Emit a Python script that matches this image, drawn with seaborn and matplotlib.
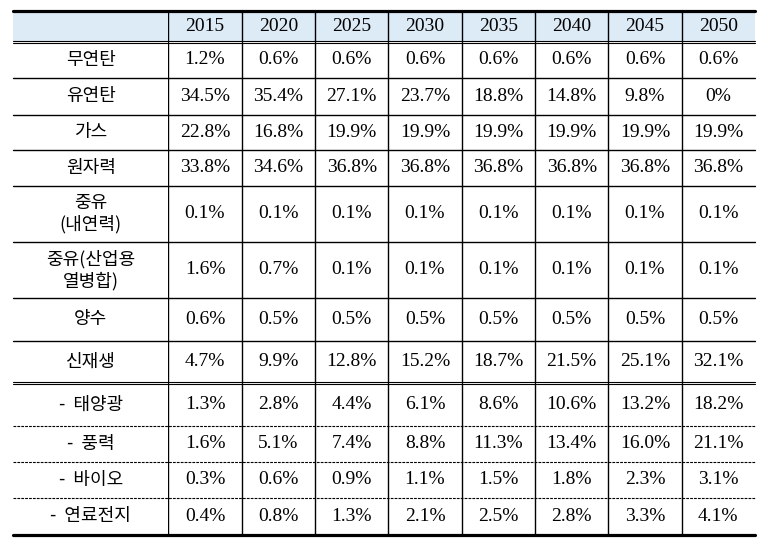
import numpy as np
import matplotlib

matplotlib.use("Agg")
import matplotlib.pyplot as plt
import seaborn as sns
from matplotlib.colors import ListedColormap
from matplotlib.lines import Line2D

sns.set_theme(style="white")

# Power generation mix by source (%)
years = ["2015", "2020", "2025", "2030", "2035", "2040", "2045", "2050"]
row_labels = [
    "무연탄",
    "유연탄",
    "가스",
    "원자력",
    "중유\n(내연력)",
    "중유(산업용\n열병합)",
    "양수",
    "신재생",
    "-  태양광",
    "-  풍력",
    "-  바이오",
    "-  연료전지",
]
anthracite = [1.2, 0.6, 0.6, 0.6, 0.6, 0.6, 0.6, 0.6]
bituminous = [34.5, 35.4, 27.1, 23.7, 18.8, 14.8, 9.8, 0]
gas = [22.8, 16.8, 19.9, 19.9, 19.9, 19.9, 19.9, 19.9]
nuclear = [33.8, 34.6, 36.8, 36.8, 36.8, 36.8, 36.8, 36.8]
oil_internal = [0.1, 0.1, 0.1, 0.1, 0.1, 0.1, 0.1, 0.1]
oil_chp = [1.6, 0.7, 0.1, 0.1, 0.1, 0.1, 0.1, 0.1]
pumped = [0.6, 0.5, 0.5, 0.5, 0.5, 0.5, 0.5, 0.5]
renewable = [4.7, 9.9, 12.8, 15.2, 18.7, 21.5, 25.1, 32.1]
solar = [1.3, 2.8, 4.4, 6.1, 8.6, 10.6, 13.2, 18.2]
wind = [1.6, 5.1, 7.4, 8.8, 11.3, 13.4, 16.0, 21.1]
bio = [0.3, 0.6, 0.9, 1.1, 1.5, 1.8, 2.3, 3.1]
fuel_cell = [0.4, 0.8, 1.3, 2.1, 2.5, 2.8, 3.3, 4.1]

shares = [anthracite, bituminous, gas, nuclear, oil_internal, oil_chp,
          pumped, renewable, solar, wind, bio, fuel_cell]

# table row heights in pixels (header first)
row_heights = [31, 36, 36.5, 35.5, 36, 56, 56, 43, 42, 43, 36, 36, 37]

W, H = 774, 549
header_bg = "#DDEBF7"
num_kws = dict(family="Liberation Serif", size=14, color="black")
kor_kws = dict(family=["Noto Sans CJK KR", "DejaVu Sans"], size=13,
               color="black", linespacing=1.2)


def fmt_share(v):
    return "0%" if v == 0 else f"{v:.1f}%"


fig = plt.figure(figsize=(W / 100, H / 100), dpi=100)
gs = fig.add_gridspec(
    len(row_heights), 2,
    height_ratios=row_heights,
    width_ratios=[155.3, 586.7],
    left=13 / W, right=755 / W,
    top=1 - 11 / H, bottom=1 - 535 / H,
    hspace=0, wspace=0,
)


def draw_row(i, label, cells, bg, cell_kws):
    cmap = ListedColormap([bg])
    axl = fig.add_subplot(gs[i, 0])
    axd = fig.add_subplot(gs[i, 1])
    sns.heatmap(np.zeros((1, 1)), ax=axl, cmap=cmap, vmin=0, vmax=1,
                cbar=False, annot=np.array([[label]]), fmt="",
                annot_kws=kor_kws, xticklabels=False, yticklabels=False)
    sns.heatmap(np.zeros((1, len(cells))), ax=axd, cmap=cmap, vmin=0, vmax=1,
                cbar=False, annot=np.array([cells]), fmt="",
                annot_kws=cell_kws, xticklabels=False, yticklabels=False)
    for x in range(len(cells)):
        axd.axvline(x, color="black", lw=1.0)
    return axl, axd


rows = [draw_row(0, "", years, header_bg, num_kws)]
for i, (label, vals) in enumerate(zip(row_labels, shares), start=1):
    rows.append(draw_row(i, label, [fmt_share(v) for v in vals], "white", num_kws))

x0 = rows[0][0].get_position().x0
x1 = rows[0][1].get_position().x1


def hrule(y, **kw):
    fig.add_artist(Line2D([x0, x1], [y, y], transform=fig.transFigure,
                          color="black", **kw))


def double_rule(y):
    d = 1.3 / H
    hrule(y + d, lw=0.8)
    hrule(y - d, lw=0.8)


hrule(rows[0][0].get_position().y1, lw=2.3)
for i, (axl, axd) in enumerate(rows):
    yb = axl.get_position().y0
    if i == 0 or i == 8:
        double_rule(yb)
    elif i == len(rows) - 1:
        hrule(yb, lw=2.3)
    elif i >= 9:
        hrule(yb, lw=0.8, linestyle=(0, (2.5, 1)))
    else:
        hrule(yb, lw=1.0)

fig.savefig("out.png", dpi=100, facecolor="white")
